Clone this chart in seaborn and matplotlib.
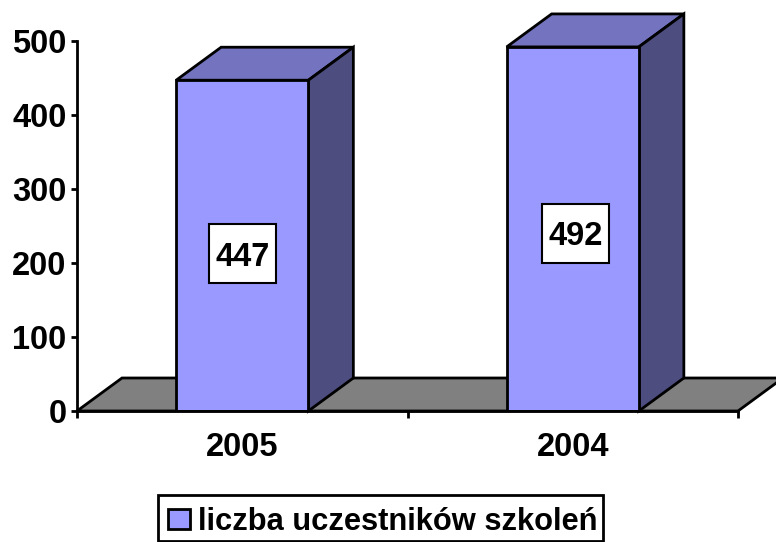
import pandas as pd
import matplotlib
matplotlib.use("Agg")
import matplotlib.pyplot as plt
from matplotlib.patches import Patch, Polygon, Rectangle
import seaborn as sns

years = ["2005", "2004"]
participants = [447, 492]
y_ticks = [0, 100, 200, 300, 400, 500]
legend_label = "liczba uczestników szkoleń"

FRONT = "#9999FF"
TOP = "#7373BF"
SIDE = "#4D4D80"
FLOOR = "#808080"
LW = 2.0
FS = 23.5

sns.set_style("white")
plt.rcParams["font.family"] = ["Liberation Sans", "DejaVu Sans"]
plt.rcParams["font.weight"] = "bold"
plt.rcParams["text.color"] = "black"
plt.rcParams["xtick.labelcolor"] = "black"
plt.rcParams["ytick.labelcolor"] = "black"

df = pd.DataFrame({"year": years, "participants": participants})

fig = plt.figure(figsize=(7.76, 5.42), dpi=100)
ax = fig.add_axes([77 / 776, 131 / 542, 661 / 776, 370 / 542])

sns.barplot(
    data=df,
    x="year",
    y="participants",
    color=FRONT,
    saturation=1,
    width=0.4,
    edgecolor="black",
    linewidth=LW,
    errorbar=None,
    ax=ax,
    zorder=3,
)
ax.set_xlim(-0.5, 1.5)
ax.set_ylim(0, 500)

# depth of the fake 3d effect, in data units
dx = 45 / 330.5
dy = 33 / 0.74
half = 0.2

ax.add_patch(Polygon(
    [(-0.5, 0), (-0.5 + dx, dy), (1.5 + dx, dy), (1.5, 0)],
    closed=True, facecolor=FLOOR, edgecolor="black", linewidth=LW,
    clip_on=False, zorder=1,
))

for i, v in enumerate(participants):
    top = [(i - half, v), (i - half + dx, v + dy), (i + half + dx, v + dy), (i + half, v)]
    side = [(i + half, 0), (i + half + dx, dy), (i + half + dx, v + dy), (i + half, v)]
    ax.add_patch(Polygon(top, closed=True, facecolor=TOP, edgecolor="black",
                         linewidth=LW, clip_on=False, zorder=2))
    ax.add_patch(Polygon(side, closed=True, facecolor=SIDE, edgecolor="black",
                         linewidth=LW, clip_on=False, zorder=2))

# data labels
label_shift = [(0.0015, -11), (0.0085, -6)]
box_w = 67 / 330.5
box_h = 59 / 0.74
for i, v in enumerate(participants):
    cx = i + label_shift[i][0]
    cy = v / 2 + label_shift[i][1]
    ax.add_patch(Rectangle((cx - box_w / 2, cy - box_h / 2), box_w, box_h,
                           facecolor="white", edgecolor="black", linewidth=1.5, zorder=4))
    ax.text(cx, cy, str(v), ha="center", va="center_baseline", fontsize=FS,
            fontweight="bold", color="black", zorder=5)

# axes: ticks sit between the categories, labels in the middle
ax.set_xlabel("")
ax.set_ylabel("")
ax.set_yticks(y_ticks)
ax.set_xticks([-0.5, 0.5, 1.5])
ax.set_xticklabels([])
ax.set_xticks([0, 1], labels=years, minor=True)
ax.tick_params(axis="y", which="major", left=True, length=4.5, width=LW, color="black",
               labelsize=FS, pad=3)
ax.tick_params(axis="x", which="major", bottom=True, length=5, width=LW, color="black")
ax.tick_params(axis="x", which="minor", bottom=False, length=0, labelsize=FS, pad=15)
sns.despine(ax=ax, top=True, right=True)
for name in ["left", "bottom"]:
    ax.spines[name].set_linewidth(LW)
    ax.spines[name].set_color("black")
    ax.spines[name].set_zorder(6)

# legend frame is off-centre around its text, so draw it apart from the legend
fig.patches.append(Rectangle((158 / 776, 1 / 542), 445 / 776, 46 / 542,
                             transform=fig.transFigure, facecolor="white",
                             edgecolor="black", linewidth=LW))
handle = Patch(facecolor=FRONT, edgecolor="black", linewidth=LW)
fig.legend(
    [handle], [legend_label],
    loc="center left",
    bbox_to_anchor=(168 / 776, 20 / 542),
    fontsize=22.2,
    frameon=False,
    borderpad=0,
    handlelength=0.72,
    handleheight=0.65,
    handletextpad=0.25,
    borderaxespad=0,
)

fig.savefig("out.png", dpi=100)
